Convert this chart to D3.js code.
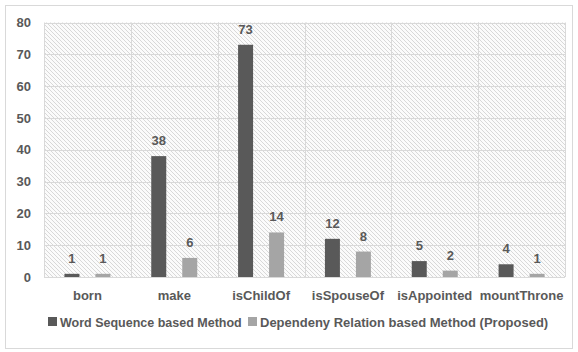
<!DOCTYPE html>
<html>
<head>
<meta charset="utf-8">
<script src="https://cdn.jsdelivr.net/npm/d3@7"></script>
<style>
  html, body { margin: 0; padding: 0; background: #ffffff; }
  svg { display: block; }
  text { font-family: "Liberation Sans", Arial, sans-serif; fill: #595959; font-weight: bold; }
</style>
</head>
<body>
<svg id="chart" width="578" height="352"></svg>
<script>
// Relation types and extraction counts per method
const categories = ["born", "make", "isChildOf", "isSpouseOf", "isAppointed", "mountThrone"];
const wordSequence = [1, 38, 73, 12, 5, 4];
const dependency = [1, 6, 14, 8, 2, 1];
const seriesNames = ["Word Sequence based Method", "Dependeny Relation based Method (Proposed)"];
const seriesColors = ["#595959", "#a5a5a5"];
const yTicks = [0, 10, 20, 30, 40, 50, 60, 70, 80];

const svg = d3.select("#chart");
const plot = { left: 44, right: 565, top: 22.5, bottom: 277 };

// outer frame
svg.append("rect")
  .attr("x", 5.5).attr("y", 5.5)
  .attr("width", 567).attr("height", 343)
  .attr("fill", "#ffffff").attr("stroke", "#d9d9d9").attr("stroke-width", 1);

// diagonal hatch fill for plot area
const defs = svg.append("defs");
const pat = defs.append("pattern")
  .attr("id", "hatch").attr("patternUnits", "userSpaceOnUse")
  .attr("width", 4).attr("height", 4);
pat.append("rect").attr("width", 4).attr("height", 4).attr("fill", "#fbfbfb");
pat.append("path")
  .attr("d", "M0,0 L4,4 M-1,3 L1,5 M3,-1 L5,1")
  .attr("stroke", "#cfcfcf").attr("stroke-width", 0.8);

svg.append("rect")
  .attr("x", plot.left).attr("y", plot.top)
  .attr("width", plot.right - plot.left).attr("height", plot.bottom - plot.top)
  .attr("fill", "url(#hatch)");

const x = d3.scaleBand().domain(categories).range([plot.left, plot.right]);
const y = d3.scaleLinear().domain([0, 80]).range([plot.bottom, plot.top]);

// horizontal gridlines
svg.append("g").selectAll("line").data(yTicks).join("line")
  .attr("x1", plot.left).attr("x2", plot.right)
  .attr("y1", d => Math.round(y(d)) + 0.5).attr("y2", d => Math.round(y(d)) + 0.5)
  .attr("stroke", "#d9d9d9").attr("stroke-width", 1);

// vertical category separators
const bounds = categories.map(c => x(c)).concat([plot.right]);
svg.append("g").selectAll("line").data(bounds).join("line")
  .attr("x1", d => Math.round(d) + 0.5).attr("x2", d => Math.round(d) + 0.5)
  .attr("y1", plot.top).attr("y2", plot.bottom)
  .attr("stroke", "#d9d9d9").attr("stroke-width", 1);

// y axis labels
const yAxis = d3.axisLeft(y).tickValues(yTicks).tickSize(0).tickPadding(13);
const gy = svg.append("g").attr("transform", `translate(${plot.left},0)`).call(yAxis);
gy.select(".domain").remove();
gy.selectAll("text").style("font-size", "13px").attr("fill", "#595959")
  .style("font-family", "\"Liberation Sans\", Arial, sans-serif").style("font-weight", "bold");

// category labels
const xAxis = d3.axisBottom(x).tickSize(0).tickPadding(14);
const gx = svg.append("g").attr("transform", `translate(0,${plot.bottom})`).call(xAxis);
gx.select(".domain").remove();
gx.selectAll("text").style("font-size", "13px").attr("fill", "#595959")
  .style("font-family", "\"Liberation Sans\", Arial, sans-serif").style("font-weight", "bold");

// grouped bars
const barW = 15;
const offsets = [-15.5, 15.5];
const series = [wordSequence, dependency];
series.forEach((vals, si) => {
  const g = svg.append("g");
  g.selectAll("rect").data(categories).join("rect")
    .attr("x", (c) => x(c) + x.bandwidth() / 2 + offsets[si] - barW / 2)
    .attr("y", (c, i) => y(vals[i]))
    .attr("width", barW)
    .attr("height", (c, i) => y(0) - y(vals[i]))
    .attr("fill", seriesColors[si]);
  g.selectAll("text").data(categories).join("text")
    .attr("x", (c) => x(c) + x.bandwidth() / 2 + offsets[si])
    .attr("y", (c, i) => y(vals[i]) - 11)
    .attr("text-anchor", "middle")
    .style("font-size", "13px")
    .text((c, i) => vals[i]);
});

// legend
const legendY = 322;
const legendItems = [
  { x: 48, name: seriesNames[0], color: seriesColors[0], size: 12.5 },
  { x: 248, name: seriesNames[1], color: seriesColors[1], size: 13 }
];
const lg = svg.append("g");
legendItems.forEach(it => {
  lg.append("rect").attr("x", it.x).attr("y", legendY - 5).attr("width", 9).attr("height", 9).attr("fill", it.color);
  lg.append("text").attr("x", it.x + 12).attr("y", legendY + 5)
    .style("font-size", it.size + "px").text(it.name);
});
</script>
</body>
</html>
